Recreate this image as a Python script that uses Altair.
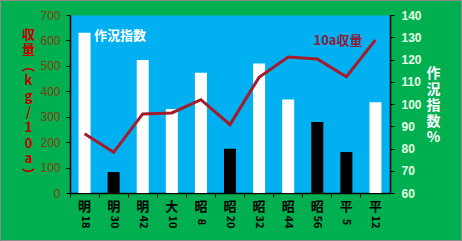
import altair as alt
import pandas as pd

categories = ["明18", "明30", "明42", "大10", "昭8", "昭20", "昭32", "昭44", "昭56", "平5", "平12"]
yield_kg = [233, 160, 311, 315, 367, 269, 455, 535, 527, 457, 602]
crop_index = [132.0, 69.4, 119.8, 97.8, 114.1, 79.9, 118.2, 102.0, 91.9, 78.4, 100.8]

left_ticks = [0, 100, 200, 300, 400, 500, 600, 700]
right_ticks = [60, 70, 80, 90, 100, 110, 120, 130, 140]

df = pd.DataFrame({"cat": categories, "yield": yield_kg, "idx": crop_index})

FONT = "Noto Sans CJK JP"
xscale = alt.Scale(domain=categories, paddingInner=0, paddingOuter=0)
xaxis = alt.Axis(title=None, bandPosition=0,
                 labelExpr="substring(datum.label,0,1)",
                 labelAngle=0, labelFont=FONT, labelFontSize=13,
                 labelFontWeight="bold", labelColor="black",
                 labelPadding=3, tickSize=4, tickColor="black",
                 domainColor="black", domainWidth=1.5, labelOverlap=False)

base = alt.Chart(df)

bars = base.mark_bar(size=12).encode(
    x=alt.X("cat:N", scale=xscale, sort=categories, axis=xaxis),
    y=alt.Y("idx:Q", scale=alt.Scale(domain=[60, 140], zero=False, nice=False),
            axis=alt.Axis(orient="right", values=right_ticks, grid=False,
                          labelColor="#e6ffe6", labelFontSize=12, labelFont="Liberation Sans",
                          labelFontWeight="bold", labelPadding=7,
                          tickSize=4, tickColor="black", domainColor="black", domainWidth=1.5,
                          title=["作", "況", "指", "数", "%"], titleAngle=0,
                          titleAlign="center", titleBaseline="top",
                          titleX=43, titleY=51, titleLineHeight=16,
                          titleFont=FONT, titleFontSize=14, titleFontWeight="bold",
                          titleColor="white")),
    y2=alt.datum(60),
    color=alt.condition(alt.datum.idx < 95, alt.value("black"), alt.value("white")),
)

line = base.mark_line(color="#a31c2b", strokeWidth=3).encode(
    x=alt.X("cat:N", scale=xscale, sort=categories, axis=xaxis),
    y=alt.Y("yield:Q", scale=alt.Scale(domain=[0, 700], nice=False),
            axis=alt.Axis(orient="left", values=left_ticks, grid=False,
                          labelColor="#843c0c", labelFontSize=12, labelFont="Liberation Sans",
                          labelPadding=6, tickSize=4, tickColor="black",
                          domainColor="black", domainWidth=1.5,
                          title=["収", "量", "︵", "k", "g", "/", "1", "0", "a", "︶"],
                          titleAngle=0, titleAlign="center", titleBaseline="top",
                          titleX=-42, titleY=13, titleLineHeight=15.6,
                          titleFont=FONT, titleFontSize=13, titleFontWeight="bold",
                          titleColor="#c00000")),
)

digits = base.transform_calculate(
    num="length(substring(datum.cat,1)) == 1 ? '  ' + substring(datum.cat,1) : substring(datum.cat,1)"
).mark_text(angle=90, font=FONT, fontSize=11, fontWeight="bold", color="black",
            align="center", baseline="middle").encode(
    x=alt.X("cat:N", scale=xscale, sort=categories, axis=xaxis),
    y=alt.value(207),
    text="num:N",
)

note_df = pd.DataFrame({"a": [0]})
note1 = alt.Chart(note_df).mark_text(text="作況指数", font=FONT, fontSize=13,
                                     fontWeight="bold", color="white").encode(
    x=alt.value(50), y=alt.value(21))
note2 = alt.Chart(note_df).mark_text(text="10a収量", font=FONT, fontSize=13,
                                     fontWeight="bold", color="#8b1c3c").encode(
    x=alt.value(268), y=alt.value(26))
frame = alt.Chart(note_df).mark_rect(fill="transparent", stroke="#8c8c8c", strokeWidth=1).encode(
    x=alt.value(-69.5), x2=alt.value(391.5), y=alt.value(-14.5), y2=alt.value(225.5))

chart = alt.layer(bars, line, digits, note1, note2, frame).resolve_scale(
    y="independent"
).properties(
    width=320, height=178,
    autosize=alt.AutoSizeParams(type="none"),
    padding={"left": 70, "top": 15, "right": 72, "bottom": 48},
).configure(background="#00b050").configure_view(fill="#00b0f0", stroke="transparent")

chart.save("out.html", embed_options={"renderer": "svg", "actions": False})
